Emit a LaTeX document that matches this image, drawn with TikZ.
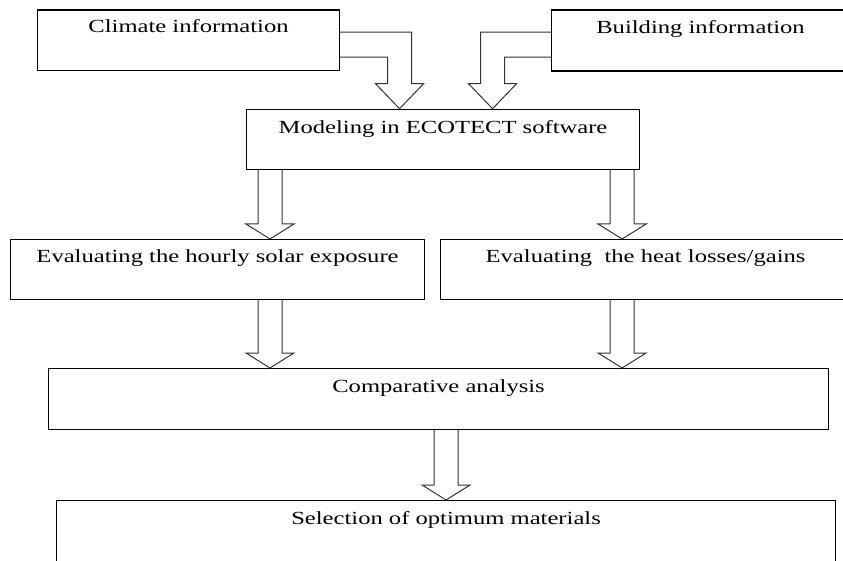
\documentclass[tikz,border=0pt]{standalone}
\usepackage{fontspec}
\setmainfont{Liberation Serif}[FakeStretch=1.33]
\usetikzlibrary{calc}

\tikzset{
	box/.style={draw, rectangle, anchor=north west, inner sep=0pt, line width=1.1pt},
	title/.style={anchor=base, inner sep=0pt, font=\fontsize{18.5}{22}\selectfont},
	hollow/.style={draw=black!80, line width=1pt, line join=miter}
}

% hollow block arrow pointing down: #1 top of the shaft, #2 tip
\newcommand{\hollowdown}[2]{%
	\draw [hollow] ($(#1)+(-12,0)$) -- ($(#2)+(-12,-15)$) -- ($(#2)+(-24,-15)$) -- (#2)
		-- ($(#2)+(24,-15)$) -- ($(#2)+(12,-15)$) -- ($(#1)+(12,0)$);}

\begin{document}
\begin{tikzpicture}[x=1pt,y=1pt,yscale=-1,xscale=1]
	\clip (0,0) rectangle (843,561); %picture is 843 wide and 561 high

	%Shape: Rectangle [climate]
	\node [box, minimum width=302, minimum height=60.5] (climate) at (37,9.5) {};
	%Shape: Rectangle [building]
	\node [box, minimum width=298, minimum height=61] (building) at (551,9.5) {};
	%Shape: Rectangle [ecotect]
	\node [box, minimum width=393, minimum height=60.3] (ecotect) at (246,108.7) {};
	%Shape: Rectangle [solar]
	\node [box, minimum width=414, minimum height=60] (solar) at (10,239) {};
	%Shape: Rectangle [heat]
	\node [box, minimum width=410, minimum height=60] (heat) at (440,239) {};
	%Shape: Rectangle [compare]
	\node [box, minimum width=780, minimum height=61] (compare) at (48,368) {};
	%Shape: Rectangle [select]
	\node [box, minimum width=779, minimum height=80] (select) at (56,500) {};

	% Text Node
	\node [title] (climatetext) at ($(climate.north)+(0,23.5)$) {Climate information};
	% Text Node
	\node [title] (buildingtext) at ($(building.north)+(0,24)$) {Building information};
	% Text Node
	\node [title] (ecotecttext) at ($(ecotect.north)+(0,25)$) {Modeling in ECOTECT software};
	% Text Node
	\node [title] (solartext) at ($(solar.north)+(0,23)$) {Evaluating the hourly solar exposure};
	% Text Node
	\node [title] (heattext) at ($(heat.north)+(0,23)$) {Evaluating\ \ the heat losses/gains};
	% Text Node
	\node [title] (comparetext) at ($(compare.north)+(0,24)$) {Comparative analysis};
	% Text Node
	\node [title] (selecttext) at ($(select.north)+(0,24)$) {Selection of optimum materials};

	\coordinate (climatetip) at ([xshift=-43.5pt]ecotect.north);
	\coordinate (buildingtip) at ([xshift=49.5pt]ecotect.north);

	%Block Arrow: climate to ecotect
	\draw [hollow] ($(climate.north east)+(0,22.7)$) -| ($(climatetip)+(12,-25)$) -- ($(climatetip)+(24,-25)$) -- (climatetip)
		-- ($(climatetip)+(-24,-25)$) -- ($(climatetip)+(-12,-25)$) |- ($(climate.north east)+(0,47.7)$);
	%Block Arrow: building to ecotect
	\draw [hollow] ($(building.north west)+(0,22.7)$) -| ($(buildingtip)+(-12,-25)$) -- ($(buildingtip)+(-24,-25)$) -- (buildingtip)
		-- ($(buildingtip)+(24,-25)$) -- ($(buildingtip)+(12,-25)$) |- ($(building.north west)+(0,47.7)$);

	\coordinate (leftway) at ([xshift=24pt]ecotect.south west);
	\coordinate (rightway) at ([xshift=-18pt]ecotect.south east);

	%Block Arrows: ecotect to the evaluations
	\hollowdown{leftway}{leftway |- solar.north}
	\hollowdown{rightway}{rightway |- heat.north}
	%Block Arrows: evaluations to compare
	\hollowdown{leftway |- solar.south}{leftway |- compare.north}
	\hollowdown{rightway |- heat.south}{rightway |- compare.north}
	%Block Arrow: compare to select
	\hollowdown{select.north |- compare.south}{select.north}
\end{tikzpicture}
\end{document}
